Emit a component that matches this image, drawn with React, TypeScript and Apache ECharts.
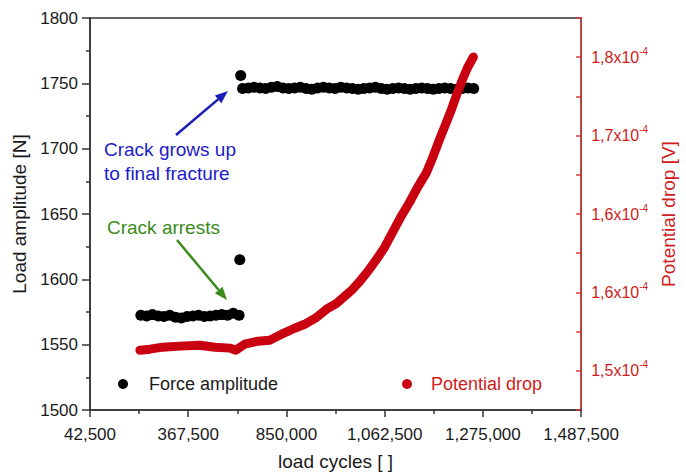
import React, { useEffect, useRef } from "react";
import * as echarts from "echarts";

// ---- data ----
// x tick labels as printed on the original figure
const xTickLabels = ["42,500", "367,500", "850,000", "1,062,500", "1,275,000", "1,487,500"];
// right axis tick labels (mantissa, x10^-4 V)
const rightTickLabels = ["1,5", "1,6", "1,6", "1,7", "1,8"];

// Force amplitude [N] – lower plateau (crack arrests)
const lowerCycles = [535000, 547500, 560000, 572500, 585000, 597500, 610000, 622500, 635000, 647500, 660000, 672500, 685000, 697500, 710000, 722500, 735000, 747500];
const lowerForce = [1572.5, 1572, 1573, 1572, 1571.5, 1572.5, 1571, 1570.5, 1571.5, 1572, 1572.5, 1571.5, 1572, 1572.5, 1573, 1572.5, 1574, 1572.5];

// Force amplitude [N] – upper plateau (crack grows up to final fracture)
const upperCycles = [755000, 767500, 780000, 792500, 805000, 817500, 830000, 842500, 855000, 867500, 880000, 892500, 905000, 917500, 930000, 942500, 955000, 967500, 980000, 992500, 1005000, 1017500, 1030000, 1042500, 1055000, 1067500, 1080000, 1092500, 1105000, 1117500, 1130000, 1142500, 1155000, 1167500, 1180000, 1192500, 1205000, 1217500, 1230000, 1242500, 1255000];
const upperForce = [1746, 1746.5, 1747, 1746.5, 1746, 1747, 1747.5, 1746.5, 1746, 1746.5, 1747, 1746, 1745.5, 1746.5, 1747, 1746.5, 1746, 1747, 1746.5, 1746, 1745.5, 1746, 1746.5, 1747, 1746, 1745.5, 1746, 1746.5, 1746, 1745.5, 1746, 1746.5, 1746, 1745.5, 1746, 1746.5, 1746, 1745.5, 1746, 1746.5, 1746];

// isolated force points during the load change
const outlierCycles = [749000, 751000];
const outlierForce = [1615, 1756];

// Potential drop (in units of 1e-4 V)
const potentialCycles = [533000, 554600, 582600, 619400, 662500, 695000, 727300, 740300, 759700, 787800, 813700, 839600, 867700, 889300, 915200, 936800, 958400, 975700, 993000, 1010200, 1027500, 1044800, 1062100, 1079300, 1096600, 1116000, 1133300, 1152800, 1167900, 1180800, 1193800, 1206700, 1219700, 1230500, 1241300, 1254300];
const potentialDrop = [1.5197, 1.5207, 1.5226, 1.5236, 1.5245, 1.5226, 1.5217, 1.5197, 1.5255, 1.5283, 1.5293, 1.535, 1.5407, 1.5445, 1.5512, 1.5589, 1.5646, 1.5713, 1.578, 1.5865, 1.596, 1.6066, 1.618, 1.6323, 1.6466, 1.661, 1.6752, 1.6896, 1.7058, 1.721, 1.7353, 1.7497, 1.7659, 1.7783, 1.7897, 1.8002];

const FONT = "Liberation Sans, Arial, sans-serif";
const RED = "#c8000f";
const RED_TXT = "#d01c1c";

export default function App() {
  const ref = useRef<HTMLDivElement>(null);

  useEffect(() => {
    document.body.style.margin = "0";
    const chart = echarts.init(ref.current!, undefined, { renderer: "svg" });

    const forceData: number[][] = [];
    lowerCycles.forEach((c, i) => forceData.push([c, lowerForce[i]]));
    upperCycles.forEach((c, i) => forceData.push([c, upperForce[i]]));
    outlierCycles.forEach((c, i) => forceData.push([c, outlierForce[i]]));
    const potData = potentialCycles.map((c, i) => [c, potentialDrop[i]]);

    const rMin = 1.4625;
    const rInt = 0.0375;

    const option: any = {
      animation: false,
      backgroundColor: "#ffffff",
      textStyle: { fontFamily: FONT },
      grid: {
        left: 90,
        right: 104,
        top: 18,
        bottom: 65,
        show: true,
        borderColor: "#333",
        borderWidth: 1.5,
        backgroundColor: "transparent",
      },
      legend: [
        {
          data: ["Force amplitude"],
          left: 118,
          top: 375,
          padding: 0,
          icon: "circle",
          itemWidth: 10,
          itemHeight: 10,
          textStyle: { fontSize: 18, color: "#1a1a1a", fontFamily: FONT, padding: [0, 0, 0, 16] },
        },
        {
          data: ["Potential drop"],
          left: 402,
          top: 375,
          padding: 0,
          icon: "circle",
          itemWidth: 10,
          itemHeight: 10,
          textStyle: { fontSize: 18, color: RED_TXT, fontFamily: FONT, padding: [0, 0, 0, 14] },
        },
      ],
      xAxis: {
        type: "value",
        min: 425000,
        max: 1487500,
        interval: 212500,
        name: "load cycles [ ]",
        nameLocation: "middle",
        nameGap: 42,
        nameTextStyle: { fontSize: 19, color: "#1a1a1a", fontFamily: FONT },
        axisLine: { show: true, lineStyle: { color: "#333", width: 1.5 } },
        axisTick: { show: true, inside: false, length: 7, lineStyle: { color: "#333", width: 1.5 } },
        minorTick: { show: true, splitNumber: 2, length: 4, lineStyle: { color: "#333", width: 1.5 } },
        splitLine: { show: false },
        axisLabel: {
          fontSize: 17,
          color: "#1a1a1a",
          margin: 16,
          fontFamily: FONT,
          formatter: (v: number) => {
            const idx = Math.round((v - 425000) / 212500);
            return xTickLabels[idx] ?? "";
          },
        },
      },
      yAxis: [
        {
          type: "value",
          min: 1500,
          max: 1800,
          interval: 50,
          position: "left",
          name: "Load amplitude [N]",
          nameLocation: "middle",
          nameGap: 53,
          nameTextStyle: { fontSize: 19, color: "#1a1a1a", fontFamily: FONT },
          axisLine: { show: true, lineStyle: { color: "#333", width: 1.5 } },
          axisTick: { show: true, inside: false, length: 8, lineStyle: { color: "#333", width: 1.5 } },
          minorTick: { show: true, splitNumber: 2, length: 4, lineStyle: { color: "#333", width: 1.5 } },
          splitLine: { show: false },
          axisLabel: {
            fontSize: 17,
            color: "#1a1a1a",
            margin: 12,
            fontFamily: FONT,
            formatter: (v: number) => String(Math.round(v)),
          },
        },
        {
          type: "value",
          min: rMin,
          max: 1.8375,
          interval: rInt,
          position: "right",
          name: "Potential drop [V]",
          nameLocation: "middle",
          nameGap: 59,
          nameRotate: 90,
          nameTextStyle: { fontSize: 19, color: RED_TXT, fontFamily: FONT },
          axisLine: { show: true, lineStyle: { color: "#d23a3a", width: 1.5 } },
          axisTick: { show: true, inside: true, length: 5, lineStyle: { color: "#d23a3a", width: 1.5 } },
          splitLine: { show: false },
          axisLabel: {
            margin: 10,
            fontFamily: FONT,
            formatter: (v: number) => {
              const idx = Math.round((v - rMin) / rInt);
              if (idx % 2 === 1) {
                const s = rightTickLabels[(idx - 1) / 2];
                if (s) return "{m|" + s + "x10}{s|-4}";
              }
              return "";
            },
            rich: {
              m: { fontSize: 16, color: RED_TXT, fontFamily: FONT, lineHeight: 22 },
              s: { fontSize: 10, color: RED_TXT, fontFamily: FONT, lineHeight: 10, verticalAlign: "top", padding: [0, 0, 6, 0] },
            },
          },
        },
      ],
      series: [
        {
          name: "Force amplitude",
          type: "scatter",
          yAxisIndex: 0,
          symbol: "circle",
          symbolSize: 11,
          itemStyle: { color: "#000000", opacity: 1 },
          data: forceData,
          z: 2,
        },
        {
          name: "Potential drop",
          type: "line",
          yAxisIndex: 1,
          showSymbol: false,
          symbol: "circle",
          lineStyle: { color: RED, width: 9, cap: "round", join: "round" },
          itemStyle: { color: RED },
          data: potData,
          z: 3,
        },
      ],
      graphic: [
        {
          type: "text",
          left: 104,
          top: 140,
          style: { text: "Crack grows up", fontSize: 19, fill: "#1c1cc8", fontFamily: FONT },
        },
        {
          type: "text",
          left: 104,
          top: 164,
          style: { text: "to final fracture", fontSize: 19, fill: "#1c1cc8", fontFamily: FONT },
        },
        {
          type: "text",
          left: 107,
          top: 218,
          style: { text: "Crack arrests", fontSize: 19, fill: "#3a8a1c", fontFamily: FONT },
        },
        {
          type: "line",
          shape: { x1: 176, y1: 135, x2: 218.1, y2: 99.4 },
          style: { stroke: "#1c1cb8", lineWidth: 2.5 },
        },
        {
          type: "polygon",
          shape: { points: [[228, 91], [221.3, 103.2], [214.9, 95.6]] },
          style: { fill: "#1c1cb8" },
        },
        {
          type: "line",
          shape: { x1: 177, y1: 240, x2: 218.7, y2: 290 },
          style: { stroke: "#3a8a1c", lineWidth: 2.5 },
        },
        {
          type: "polygon",
          shape: { points: [[227, 300], [214.9, 293.2], [222.5, 286.8]] },
          style: { fill: "#3a8a1c" },
        },
      ],
    };

    chart.setOption(option);
    return () => chart.dispose();
  }, []);

  return <div ref={ref} style={{ width: 686, height: 476 }} />;
}
